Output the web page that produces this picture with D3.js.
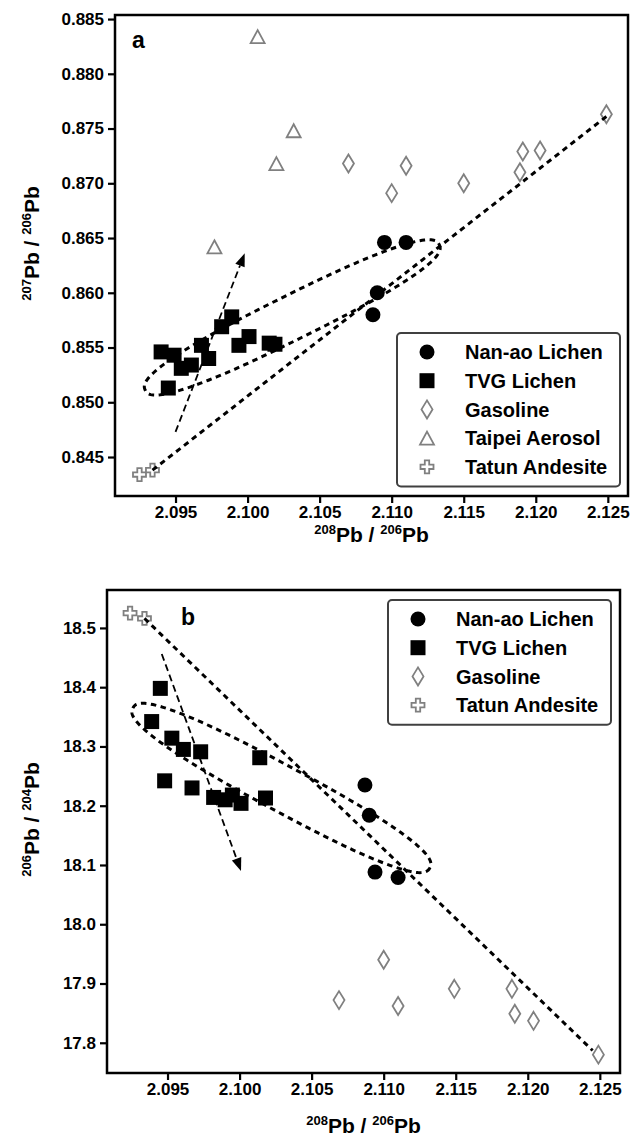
<!DOCTYPE html>
<html>
<head>
<meta charset="utf-8">
<script src="https://cdn.jsdelivr.net/npm/d3@7"></script>
<style>
  body { margin: 0; background: #fff; }
  text { font-family: "Liberation Sans", Arial, sans-serif; font-weight: bold; fill: #000; }
</style>
</head>
<body>
<svg width="631" height="1142"></svg>
<script>
// ---- data ----
const xTicks = [2.095, 2.100, 2.105, 2.110, 2.115, 2.120, 2.125];
const yTicksA = [0.845, 0.850, 0.855, 0.860, 0.865, 0.870, 0.875, 0.880, 0.885];
const yTicksB = [17.8, 17.9, 18.0, 18.1, 18.2, 18.3, 18.4, 18.5];

// panel a : 207Pb/206Pb vs 208Pb/206Pb
const nanaoXA = [2.1087, 2.1090, 2.1095, 2.1110];
const nanaoYA = [0.8580, 0.8600, 0.8646, 0.8646];
const tvgXA = [2.0940, 2.0949, 2.0954, 2.0961, 2.0968, 2.0973, 2.0945, 2.0982, 2.0989, 2.0994, 2.1001, 2.1015, 2.1019];
const tvgYA = [0.8546, 0.8543, 0.8531, 0.8534, 0.8552, 0.8540, 0.8513, 0.8569, 0.8578, 0.8552, 0.8560, 0.8554, 0.8553];
const gasXA = [2.1070, 2.1100, 2.1110, 2.1150, 2.1189, 2.1191, 2.1203, 2.1249];
const gasYA = [0.8718, 0.8691, 0.8716, 0.8700, 0.8710, 0.8729, 0.8730, 0.8763];
const aeroXA = [2.1007, 2.1032, 2.1020, 2.0977];
const aeroYA = [0.8834, 0.8748, 0.8718, 0.8642];
const tatunXA = [2.0925, 2.0934];
const tatunYA = [0.8434, 0.8438];

// panel b : 206Pb/204Pb vs 208Pb/206Pb
const nanaoXB = [2.1087, 2.1090, 2.1094, 2.1110];
const nanaoYB = [18.235, 18.184, 18.088, 18.079];
const tvgXB = [2.0945, 2.0939, 2.0953, 2.0961, 2.0973, 2.1014, 2.0948, 2.0967, 2.0982, 2.0990, 2.0995, 2.1001, 2.1018];
const tvgYB = [18.398, 18.342, 18.314, 18.295, 18.291, 18.281, 18.242, 18.230, 18.214, 18.210, 18.218, 18.204, 18.213];
const gasXB = [2.1069, 2.1100, 2.1110, 2.1149, 2.1189, 2.1191, 2.1204, 2.1249];
const gasYB = [17.872, 17.940, 17.862, 17.891, 17.891, 17.849, 17.837, 17.780];
const tatunXB = [2.0924, 2.0934];
const tatunYB = [18.525, 18.516];

// guide lines (end points in data units)
const mixLineA = [[2.0934, 0.8438], [2.1249, 0.8761]];
const mixLineB = [[2.0934, 18.516], [2.1245, 17.787]];
const ellipseA = [[2.0929, 0.8511], [2.1133, 0.8644]];
const ellipseB = [[2.0926, 18.365], [2.1132, 18.095]];
const arrowA = [[2.0950, 0.8473], [2.0998, 0.8636]];
const arrowB = [[2.0946, 18.456], [2.1001, 18.090]];

const legendA = ['Nan-ao Lichen', 'TVG Lichen', 'Gasoline', 'Taipei Aerosol', 'Tatun Andesite'];
const legendB = ['Nan-ao Lichen', 'TVG Lichen', 'Gasoline', 'Tatun Andesite'];

// ---- marker shapes ----
const gray = '#808080';
const shapes = {
  'Nan-ao Lichen': { d: d3.symbol(d3.symbolCircle, Math.PI * 7.5 * 7.5)(), fill: '#000', stroke: 'none' },
  'TVG Lichen': { d: d3.symbol(d3.symbolSquare, 15 * 15)(), fill: '#000', stroke: 'none' },
  'Gasoline': { d: 'M0,-9L5.5,0L0,9L-5.5,0Z', fill: '#fff', stroke: gray },
  'Taipei Aerosol': { d: 'M0,-6.5L7,6.5L-7,6.5Z', fill: '#fff', stroke: gray },
  'Tatun Andesite': { d: 'M-2.2,-6.5H2.2V-2.2H6.5V2.2H2.2V6.5H-2.2V2.2H-6.5V-2.2H-2.2Z', fill: '#fff', stroke: gray }
};

const svg = d3.select('svg');

function drawPanel(p) {
  const x = d3.scaleLinear().domain([2.0908, 2.1264]).range([p.left, p.right]);
  const y = d3.scaleLinear().domain(p.yDomain).range([p.bottom, p.top]);
  const g = svg.append('g');

  // axes
  const xAxis = g.append('g')
    .attr('transform', `translate(0,${p.bottom})`)
    .call(d3.axisBottom(x).tickValues(xTicks).tickFormat(d3.format('.3f')).tickSize(7).tickPadding(3));
  const yAxis = g.append('g')
    .attr('transform', `translate(${p.left},0)`)
    .call(d3.axisLeft(y).tickValues(p.yTicks).tickFormat(d3.format(p.yFormat)).tickSize(7).tickPadding(4));
  [xAxis, yAxis].forEach(a => {
    a.select('.domain').remove();
    a.selectAll('line').attr('stroke', '#000').attr('stroke-width', 2.2);
    a.selectAll('text').attr('font-size', 17).attr('font-family', '"Liberation Sans", Arial, sans-serif').attr('font-weight', 'bold');
  });

  // points
  p.series.forEach(s => {
    const sh = shapes[s.name];
    g.append('g').selectAll('path')
      .data(d3.zip(s.xs, s.ys))
      .join('path')
      .attr('d', sh.d)
      .attr('transform', d => `translate(${x(d[0])},${y(d[1])})`)
      .attr('fill', sh.fill)
      .attr('stroke', sh.stroke)
      .attr('stroke-width', 1.8);
  });

  // mixing line
  g.append('path')
    .attr('d', d3.line().x(d => x(d[0])).y(d => y(d[1]))(p.mix))
    .attr('fill', 'none').attr('stroke', '#000')
    .attr('stroke-width', 3).attr('stroke-dasharray', '5.5,4.5');

  // elongated ellipse round the lichen field
  const e0 = [x(p.ellipse[0][0]), y(p.ellipse[0][1])];
  const e1 = [x(p.ellipse[1][0]), y(p.ellipse[1][1])];
  const cx = (e0[0] + e1[0]) / 2, cy = (e0[1] + e1[1]) / 2;
  const ra = Math.hypot(e1[0] - e0[0], e1[1] - e0[1]) / 2, rb = ra * 0.135;
  const th = Math.atan2(e1[1] - e0[1], e1[0] - e0[0]);
  const ePts = d3.range(0, 2 * Math.PI, Math.PI / 90).map(t => {
    const c = Math.cos(t), s = Math.sin(t);
    const u = Math.sign(c) * Math.pow(Math.abs(c), 0.8) * ra;
    const v = Math.sign(s) * Math.pow(Math.abs(s), 0.8) * rb;
    return [cx + u * Math.cos(th) - v * Math.sin(th), cy + u * Math.sin(th) + v * Math.cos(th)];
  });
  g.append('path')
    .attr('d', d3.line().curve(d3.curveLinearClosed)(ePts))
    .attr('fill', 'none').attr('stroke', '#000')
    .attr('stroke-width', 3).attr('stroke-dasharray', '5.5,4.5');

  // arrow
  const a0 = [x(p.arrow[0][0]), y(p.arrow[0][1])];
  const a1 = [x(p.arrow[1][0]), y(p.arrow[1][1])];
  const len = Math.hypot(a1[0] - a0[0], a1[1] - a0[1]);
  const ux = (a1[0] - a0[0]) / len, uy = (a1[1] - a0[1]) / len;
  const base = [a1[0] - ux * 13, a1[1] - uy * 13];
  g.append('path')
    .attr('d', d3.line()([a0, base]))
    .attr('fill', 'none').attr('stroke', '#000')
    .attr('stroke-width', 1.8).attr('stroke-dasharray', '7,4');
  g.append('path')
    .attr('d', d3.line()([a1, [base[0] - uy * 5, base[1] + ux * 5], [base[0] + uy * 5, base[1] - ux * 5]]) + 'Z')
    .attr('fill', '#000');

  // frame
  g.append('rect')
    .attr('x', p.left).attr('y', p.top)
    .attr('width', p.right - p.left).attr('height', p.bottom - p.top)
    .attr('fill', 'none').attr('stroke', '#000').attr('stroke-width', 2.5);

  // panel letter
  g.append('text').attr('x', p.letterX).attr('y', p.letterY)
    .attr('font-size', 23).text(p.letter);

  // legend
  const lg = g.append('g');
  lg.append('rect')
    .attr('x', p.legX).attr('y', p.legY)
    .attr('width', 223).attr('height', p.legend.length * 28.7 + 10)
    .attr('rx', 4)
    .attr('fill', '#fff').attr('stroke', '#404040').attr('stroke-width', 2);
  const rows = lg.selectAll('g.row').data(p.legend).join('g')
    .attr('class', 'row')
    .attr('transform', (d, i) => `translate(${p.legX + 30},${p.legY + 19 + i * 28.7})`);
  rows.append('path')
    .attr('d', d => shapes[d].d)
    .attr('fill', d => shapes[d].fill)
    .attr('stroke', d => shapes[d].stroke)
    .attr('stroke-width', 1.8);
  rows.append('text').attr('x', 38).attr('dy', '0.36em')
    .attr('font-size', 20).text(d => d);

  // axis titles
  const xt = g.append('text')
    .attr('x', (p.left + p.right) / 2).attr('y', p.bottom + p.xTitleOff)
    .attr('text-anchor', 'middle');
  addIso(xt, '208', '206');
  const yt = g.append('text')
    .attr('transform', `translate(39,${(p.top + p.bottom) / 2 - 12}) rotate(-90)`)
    .attr('text-anchor', 'middle');
  addIso(yt, p.yNum, p.yDen);
}

function addIso(t, num, den) {
  t.append('tspan').attr('font-size', 13).attr('dy', -8).text(num);
  t.append('tspan').attr('font-size', 21).attr('dy', 8).text('Pb / ');
  t.append('tspan').attr('font-size', 13).attr('dy', -8).text(den);
  t.append('tspan').attr('font-size', 21).attr('dy', 8).text('Pb');
}

drawPanel({
  left: 115, right: 628, top: 15, bottom: 496,
  yDomain: [0.84144, 0.88537], yTicks: yTicksA, yFormat: '.3f',
  series: [
    { name: 'Gasoline', xs: gasXA, ys: gasYA },
    { name: 'Taipei Aerosol', xs: aeroXA, ys: aeroYA },
    { name: 'Tatun Andesite', xs: tatunXA, ys: tatunYA },
    { name: 'TVG Lichen', xs: tvgXA, ys: tvgYA },
    { name: 'Nan-ao Lichen', xs: nanaoXA, ys: nanaoYA }
  ],
  mix: mixLineA, ellipse: ellipseA, arrow: arrowA,
  letter: 'a', letterX: 132, letterY: 48,
  legend: legendA, legX: 397, legY: 333,
  xTitleOff: 46, yNum: '207', yDen: '206'
});

drawPanel({
  left: 107, right: 620, top: 590, bottom: 1073,
  yDomain: [17.749, 18.564], yTicks: yTicksB, yFormat: '.1f',
  series: [
    { name: 'Gasoline', xs: gasXB, ys: gasYB },
    { name: 'Tatun Andesite', xs: tatunXB, ys: tatunYB },
    { name: 'TVG Lichen', xs: tvgXB, ys: tvgYB },
    { name: 'Nan-ao Lichen', xs: nanaoXB, ys: nanaoYB }
  ],
  mix: mixLineB, ellipse: ellipseB, arrow: arrowB,
  letter: 'b', letterX: 181, letterY: 625,
  legend: legendB, legX: 388, legY: 600,
  xTitleOff: 60, yNum: '206', yDen: '204'
});
</script>
</body>
</html>
